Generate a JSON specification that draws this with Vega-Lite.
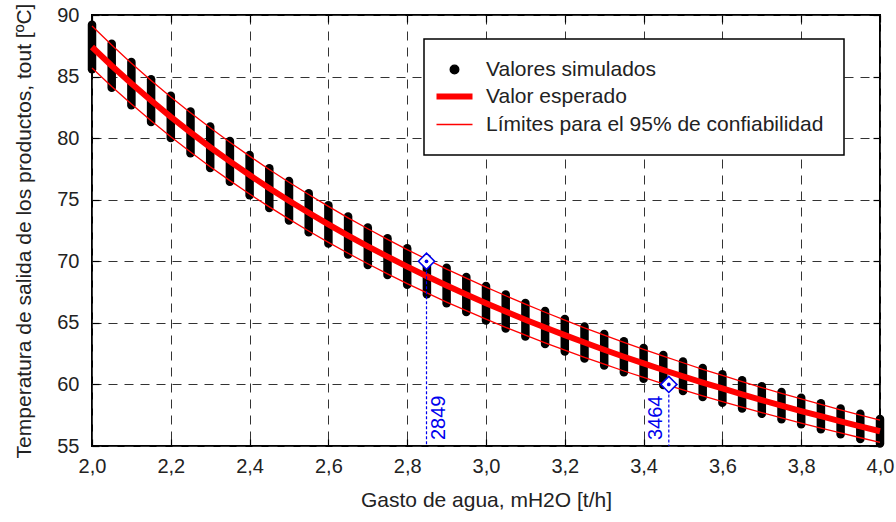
{
  "$schema": "https://vega.github.io/schema/vega-lite/v6.json",
  "autosize": "none",
  "width": 788,
  "height": 431,
  "padding": {"left": 92, "top": 15, "right": 16, "bottom": 76},
  "background": "white",
  "config": {
    "font": "Liberation Sans",
    "view": {"stroke": "black", "strokeWidth": 2},
    "axis": {"labelFont": "Liberation Sans", "titleFont": "Liberation Sans", "labelFontSize": 20, "titleFontSize": 21, "labelColor": "#222", "titleColor": "#222", "titleFontWeight": "normal"}
  },
  "datasets": {
    "sim": [
      {"m": 2.00, "e": 87.40, "lo": 85.70, "hi": 89.10, "smin": 85.60, "smax": 89.20},
      {"m": 2.05, "e": 85.88, "lo": 84.20, "hi": 87.56, "smin": 84.10, "smax": 87.66},
      {"m": 2.10, "e": 84.43, "lo": 82.77, "hi": 86.09, "smin": 82.67, "smax": 86.19},
      {"m": 2.15, "e": 83.05, "lo": 81.41, "hi": 84.69, "smin": 81.31, "smax": 84.79},
      {"m": 2.20, "e": 81.73, "lo": 80.11, "hi": 83.35, "smin": 80.01, "smax": 83.45},
      {"m": 2.25, "e": 80.47, "lo": 78.87, "hi": 82.07, "smin": 78.77, "smax": 82.17},
      {"m": 2.30, "e": 79.26, "lo": 77.68, "hi": 80.84, "smin": 77.58, "smax": 80.94},
      {"m": 2.35, "e": 78.11, "lo": 76.55, "hi": 79.67, "smin": 76.45, "smax": 79.77},
      {"m": 2.40, "e": 77.00, "lo": 75.46, "hi": 78.54, "smin": 75.36, "smax": 78.64},
      {"m": 2.45, "e": 75.94, "lo": 74.42, "hi": 77.46, "smin": 74.32, "smax": 77.56},
      {"m": 2.50, "e": 74.92, "lo": 73.42, "hi": 76.42, "smin": 73.32, "smax": 76.52},
      {"m": 2.55, "e": 73.94, "lo": 72.46, "hi": 75.42, "smin": 72.36, "smax": 75.52},
      {"m": 2.60, "e": 73.00, "lo": 71.54, "hi": 74.46, "smin": 71.44, "smax": 74.56},
      {"m": 2.65, "e": 72.09, "lo": 70.65, "hi": 73.53, "smin": 70.55, "smax": 73.63},
      {"m": 2.70, "e": 71.22, "lo": 69.80, "hi": 72.64, "smin": 69.70, "smax": 72.74},
      {"m": 2.75, "e": 70.38, "lo": 68.98, "hi": 71.78, "smin": 68.88, "smax": 71.88},
      {"m": 2.80, "e": 69.57, "lo": 68.19, "hi": 70.95, "smin": 68.09, "smax": 71.05},
      {"m": 2.85, "e": 68.79, "lo": 67.43, "hi": 70.15, "smin": 67.33, "smax": 70.25},
      {"m": 2.90, "e": 68.03, "lo": 66.69, "hi": 69.37, "smin": 66.59, "smax": 69.47},
      {"m": 2.95, "e": 67.31, "lo": 65.99, "hi": 68.63, "smin": 65.89, "smax": 68.73},
      {"m": 3.00, "e": 66.60, "lo": 65.30, "hi": 67.90, "smin": 65.20, "smax": 68.00},
      {"m": 3.05, "e": 65.92, "lo": 64.64, "hi": 67.20, "smin": 64.54, "smax": 67.30},
      {"m": 3.10, "e": 65.26, "lo": 64.00, "hi": 66.52, "smin": 63.90, "smax": 66.62},
      {"m": 3.15, "e": 64.62, "lo": 63.38, "hi": 65.86, "smin": 63.28, "smax": 65.96},
      {"m": 3.20, "e": 64.00, "lo": 62.78, "hi": 65.22, "smin": 62.68, "smax": 65.32},
      {"m": 3.25, "e": 63.40, "lo": 62.20, "hi": 64.60, "smin": 62.10, "smax": 64.70},
      {"m": 3.30, "e": 62.82, "lo": 61.64, "hi": 64.00, "smin": 61.54, "smax": 64.10},
      {"m": 3.35, "e": 62.25, "lo": 61.09, "hi": 63.41, "smin": 60.99, "smax": 63.51},
      {"m": 3.40, "e": 61.71, "lo": 60.57, "hi": 62.85, "smin": 60.47, "smax": 62.95},
      {"m": 3.45, "e": 61.17, "lo": 60.05, "hi": 62.29, "smin": 59.95, "smax": 62.39},
      {"m": 3.50, "e": 60.66, "lo": 59.56, "hi": 61.76, "smin": 59.46, "smax": 61.86},
      {"m": 3.55, "e": 60.15, "lo": 59.07, "hi": 61.23, "smin": 58.97, "smax": 61.33},
      {"m": 3.60, "e": 59.67, "lo": 58.61, "hi": 60.73, "smin": 58.51, "smax": 60.83},
      {"m": 3.65, "e": 59.19, "lo": 58.15, "hi": 60.23, "smin": 58.05, "smax": 60.33},
      {"m": 3.70, "e": 58.73, "lo": 57.71, "hi": 59.75, "smin": 57.61, "smax": 59.85},
      {"m": 3.75, "e": 58.28, "lo": 57.28, "hi": 59.28, "smin": 57.18, "smax": 59.38},
      {"m": 3.80, "e": 57.84, "lo": 56.86, "hi": 58.82, "smin": 56.76, "smax": 58.92},
      {"m": 3.85, "e": 57.42, "lo": 56.46, "hi": 58.38, "smin": 56.36, "smax": 58.48},
      {"m": 3.90, "e": 57.00, "lo": 56.06, "hi": 57.94, "smin": 55.96, "smax": 58.04},
      {"m": 3.95, "e": 56.59, "lo": 55.67, "hi": 57.51, "smin": 55.57, "smax": 57.61},
      {"m": 4.00, "e": 56.20, "lo": 55.30, "hi": 57.10, "smin": 55.20, "smax": 57.20}
    ],
    "ann": [
      {"m": 2.849, "t": 70, "lab": "2849"},
      {"m": 3.464, "t": 60, "lab": "3464"}
    ]
  },
  "resolve": {"axis": {"x": "independent", "y": "independent"}},
  "layer": [
    {
      "layer": [
        {
          "data": {"name": "sim"},
          "mark": {"type": "rule", "strokeWidth": 8.5, "strokeCap": "round"},
          "encoding": {
            "x": {"field": "m", "type": "quantitative", "scale": {"domain": [2, 4], "nice": false, "zero": false},
              "axis": {"orient": "bottom", "values": [2, 2.2, 2.4, 2.6, 2.8, 3, 3.2, 3.4, 3.6, 3.8, 4], "labelExpr": "replace(format(datum.value, '.1f'), '.', ',')", "domain": false, "tickSize": -7, "tickColor": "black", "tickWidth": 1.2, "labelPadding": 17, "labelFlush": false, "grid": true, "gridColor": "#333", "gridDash": [9, 7], "gridWidth": 1, "title": "Gasto de agua, mH2O [t/h]", "titlePadding": 13}},
            "y": {"field": "smin", "type": "quantitative", "scale": {"domain": [55, 90], "nice": false, "zero": false},
              "axis": {"orient": "left", "values": [55, 60, 65, 70, 75, 80, 85, 90], "domain": false, "tickSize": -7, "tickColor": "black", "tickWidth": 1.2, "labelPadding": 20, "labelFlush": false, "grid": true, "gridColor": "#333", "gridDash": [9, 7], "gridWidth": 1, "title": "Temperatura de salida de los productos, tout [ºC]", "titlePadding": 22}},
            "y2": {"field": "smax"},
            "color": {"datum": "Valores simulados", "type": "nominal",
              "scale": {"domain": ["Valores simulados", "Valor esperado", "Límites para el 95% de confiabilidad"], "range": ["black", "#ff0000", "#ff0000"]},
              "legend": {
                "title": null, "orient": "none", "legendX": 332, "legendY": 24,
                "fillColor": "white", "strokeColor": "black", "padding": 20,
                "labelFont": "Liberation Sans", "labelFontSize": 21, "labelColor": "#222", "labelLimit": 0, "labelOffset": 21,
                "rowPadding": 4, "symbolSize": 1296, "symbolType": "stroke",
                "encode": {
                  "legend": {"update": {"strokeWidth": {"value": 1.5}}},
                  "symbols": {"update": {
                    "shape": {"signal": "datum.value === 'Valores simulados' ? 'circle' : 'stroke'"},
                    "size": {"signal": "datum.value === 'Valores simulados' ? 75 : 1296"},
                    "fill": {"signal": "datum.value === 'Valores simulados' ? 'black' : 'transparent'"},
                    "stroke": {"signal": "datum.value === 'Valores simulados' ? 'transparent' : '#ff0000'"},
                    "strokeWidth": {"signal": "datum.value === 'Valor esperado' ? 6 : 1.3"},
                    "opacity": {"value": 1}
                  }}
                }
              }}
          }
        },
        {
          "data": {"name": "sim"},
          "mark": {"type": "line", "strokeWidth": 1.3},
          "encoding": {
            "x": {"field": "m", "type": "quantitative"},
            "y": {"field": "hi", "type": "quantitative"},
            "color": {"datum": "Límites para el 95% de confiabilidad", "type": "nominal"}
          }
        },
        {
          "data": {"name": "sim"},
          "mark": {"type": "line", "strokeWidth": 1.3},
          "encoding": {
            "x": {"field": "m", "type": "quantitative"},
            "y": {"field": "lo", "type": "quantitative"},
            "color": {"datum": "Límites para el 95% de confiabilidad", "type": "nominal"}
          }
        },
        {
          "data": {"name": "sim"},
          "mark": {"type": "line", "strokeWidth": 6},
          "encoding": {
            "x": {"field": "m", "type": "quantitative"},
            "y": {"field": "e", "type": "quantitative"},
            "color": {"datum": "Valor esperado", "type": "nominal"}
          }
        },
        {
          "data": {"name": "ann"},
          "mark": {"type": "rule", "color": "#0000ee", "strokeWidth": 1.2, "strokeDash": [3, 2]},
          "encoding": {
            "x": {"field": "m", "type": "quantitative"},
            "y": {"field": "t", "type": "quantitative"},
            "y2": {"datum": 55}
          }
        },
        {
          "data": {"name": "ann"},
          "mark": {"type": "point", "shape": "diamond", "size": 260, "filled": false, "fill": "white", "fillOpacity": 1, "stroke": "#0000ee", "strokeWidth": 1.6, "opacity": 1},
          "encoding": {
            "x": {"field": "m", "type": "quantitative"},
            "y": {"field": "t", "type": "quantitative"}
          }
        },
        {
          "data": {"name": "ann"},
          "mark": {"type": "point", "shape": "circle", "size": 14, "filled": true, "color": "#0000ee", "opacity": 1},
          "encoding": {
            "x": {"field": "m", "type": "quantitative"},
            "y": {"field": "t", "type": "quantitative"}
          }
        },
        {
          "data": {"values": [{"m": 2.849, "lab": "2849"}]},
          "mark": {"type": "text", "angle": 270, "align": "left", "baseline": "top", "dx": 6, "dy": 2, "fontSize": 20, "color": "#0000ee", "font": "Liberation Sans"},
          "encoding": {
            "x": {"field": "m", "type": "quantitative"},
            "y": {"datum": 55},
            "text": {"field": "lab"}
          }
        },
        {
          "data": {"values": [{"m": 3.464, "lab": "3464"}]},
          "mark": {"type": "text", "angle": 270, "align": "left", "baseline": "bottom", "dx": 6, "dy": -3, "fontSize": 20, "color": "#0000ee", "font": "Liberation Sans"},
          "encoding": {
            "x": {"field": "m", "type": "quantitative"},
            "y": {"datum": 55},
            "text": {"field": "lab"}
          }
        }
      ]
    },
    {
      "data": {"name": "sim"},
      "mark": {"type": "point", "opacity": 0},
      "encoding": {
        "x": {"field": "m", "type": "quantitative",
          "axis": {"orient": "top", "values": [2, 2.2, 2.4, 2.6, 2.8, 3, 3.2, 3.4, 3.6, 3.8, 4], "labels": false, "domain": false, "grid": false, "tickSize": -7, "tickColor": "black", "tickWidth": 1.2, "title": null}},
        "y": {"field": "e", "type": "quantitative",
          "axis": {"orient": "right", "values": [55, 60, 65, 70, 75, 80, 85, 90], "labels": false, "domain": false, "grid": false, "tickSize": -7, "tickColor": "black", "tickWidth": 1.2, "title": null}}
      }
    }
  ]
}
